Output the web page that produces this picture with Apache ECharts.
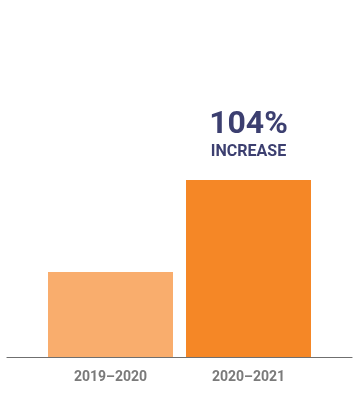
<!DOCTYPE html>
<html>
<head>
<meta charset="utf-8">
<script src="https://cdn.jsdelivr.net/npm/echarts@6/dist/echarts.min.js"></script>
<style>
html,body{margin:0;padding:0;background:#fff;}
#chart{width:359px;height:400px;}
</style>
</head>
<body>
<div id="chart"></div>
<script>
const categories = ['2019–2020', '2020–2021'];
const values = [48, 100];
const barColors = ['#F9AD6D', '#F58726'];
const annotationValue = '104%';
const annotationWord = 'INCREASE';

const chart = echarts.init(document.getElementById('chart'));
chart.setOption({
  animation: false,
  textStyle: { fontFamily: 'Roboto' },
  grid: [
    { left: 41.5, right: 41.5, top: 0, bottom: 43 },
    { left: 7, right: 7, top: 0, bottom: 43 }
  ],
  xAxis: [
    {
      type: 'category', gridIndex: 0, data: categories,
      axisLine: { show: false }, axisTick: { show: false },
      axisLabel: { color: '#7a7a7a', fontSize: 14, fontWeight: 'bold', margin: 13, fontFamily: 'Roboto' }
    },
    {
      type: 'category', gridIndex: 1, data: [''],
      axisLine: { show: true, lineStyle: { color: '#6f6f6f', width: 1.2 } },
      axisTick: { show: false }, axisLabel: { show: false }
    }
  ],
  yAxis: [
    { type: 'value', gridIndex: 0, min: 0, max: 201.7, show: false, splitLine: { show: false } },
    { type: 'value', gridIndex: 1, min: 0, max: 1, show: false, splitLine: { show: false } }
  ],
  series: [{
    type: 'bar',
    xAxisIndex: 0, yAxisIndex: 0,
    barWidth: 125,
    data: values.map((v, i) => ({
      value: v,
      itemStyle: { color: barColors[i] },
      label: i === 1 ? {
        show: true, position: 'top', distance: 18,
        formatter: '{a|' + annotationValue + '}\n{b|' + annotationWord + '}',
        rich: {
          a: { fontSize: 32, fontWeight: 'bold', color: '#3C3F70', lineHeight: 34, fontFamily: 'Roboto', align: 'center' },
          b: { fontSize: 16, fontWeight: 'bold', color: '#3C3F70', lineHeight: 20, fontFamily: 'Roboto', align: 'center' }
        }
      } : { show: false }
    }))
  }]
});
</script>
</body>
</html>
